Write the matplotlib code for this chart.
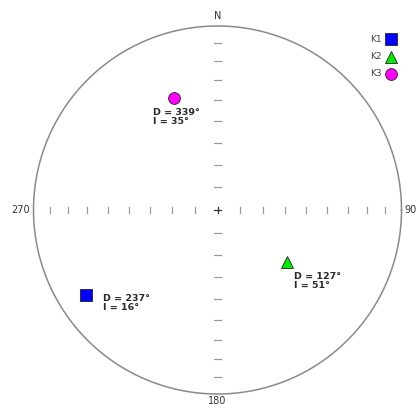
import matplotlib

matplotlib.use("Agg")
import matplotlib.pyplot as plt
import numpy as np

# principal axes (declination, inclination) in degrees
AXIS_NAMES = ["K1", "K2", "K3"]
DECS = [237.0, 127.0, 339.0]
INCS = [16.0, 51.0, 35.0]
MARKERS = ["s", "^", "o"]
COLORS = ["#0000ff", "#00ee00", "#ff00ff"]
TICK_INCS = [10, 20, 30, 40, 50, 60, 70, 80]
DIR_LABELS = ["N", "90", "180", "270"]

W_PX, H_PX = 417, 408
CX, CY, R = 217.5, 210.0, 184.0  # net centre / radius in pixels (from top)
GREY = "#8a8a8a"


def eq_area(dec, inc):
    r = np.sqrt(2.0) * np.sin(np.radians(90.0 - inc) / 2.0)
    return r * np.sin(np.radians(dec)), r * np.cos(np.radians(dec))


fig = plt.figure(figsize=(W_PX / 100, H_PX / 100), dpi=100)
ax = fig.add_axes([0, 0, 1, 1])
ax.set_xlim(-CX / R, (W_PX - CX) / R)
ax.set_ylim(-(H_PX - CY) / R, CY / R)
ax.set_aspect("equal")
ax.axis("off")

th = np.linspace(0, 2 * np.pi, 400)
ax.plot(np.cos(th), np.sin(th), color=GREY, lw=1.1)

# inclination ticks along the cardinal diameters
tl = 0.017
for inc in TICK_INCS:
    for dec in (0, 90, 180, 270):
        x, y = eq_area(dec, inc)
        if dec in (0, 180):
            ax.plot([x - tl, x + tl], [y, y], color="#9a9a9a", lw=0.9)
        else:
            ax.plot([x, x], [y - tl, y + tl], color="#9a9a9a", lw=0.9)
ax.plot([-tl, tl], [0, 0], color="#333333", lw=0.9)
ax.plot([0, 0], [-tl, tl], color="#333333", lw=0.9)

lab_kw = dict(fontsize=7, color="#333333")
ax.text(0, 1.055, DIR_LABELS[0], ha="center", va="center", **lab_kw)
ax.text((404 - CX) / R, 0, DIR_LABELS[1], ha="left", va="center", **lab_kw)
ax.text(0, -(401 - CY) / R, DIR_LABELS[2], ha="center", va="center", **lab_kw)
ax.text(-1.02, 0, DIR_LABELS[3], ha="right", va="center", **lab_kw)

offsets = [(0.09, 0.005), (0.04, -0.055), (-0.115, -0.055)]
for name, d, i, m, c, (dx, dy) in zip(AXIS_NAMES, DECS, INCS, MARKERS, COLORS, offsets):
    x, y = eq_area(d, i)
    ax.plot(x, y, marker=m, color=c, markersize=8.5 if m != "s" else 8,
            markeredgecolor="#222222", markeredgewidth=0.6, linestyle="none")
    ax.text(x + dx, y + dy, f"D = {d:.0f}\u00b0\nI = {i:.0f}\u00b0", ha="left", va="top",
            fontsize=6.8, fontweight="bold", color="#2a2a2a", linespacing=0.95)

# legend in the upper right corner
for k, (name, m, c) in enumerate(zip(AXIS_NAMES, MARKERS, COLORS)):
    yy = (CY - (39 + 17.5 * k)) / R
    ax.text((382 - CX) / R, yy, name, ha="right", va="center", fontsize=6.5, color="#444444")
    ax.plot((391 - CX) / R, yy, marker=m, color=c, markersize=8.5 if m != "s" else 8,
            markeredgecolor="#222222", markeredgewidth=0.6, linestyle="none")

fig.savefig("out.png", dpi=100)
